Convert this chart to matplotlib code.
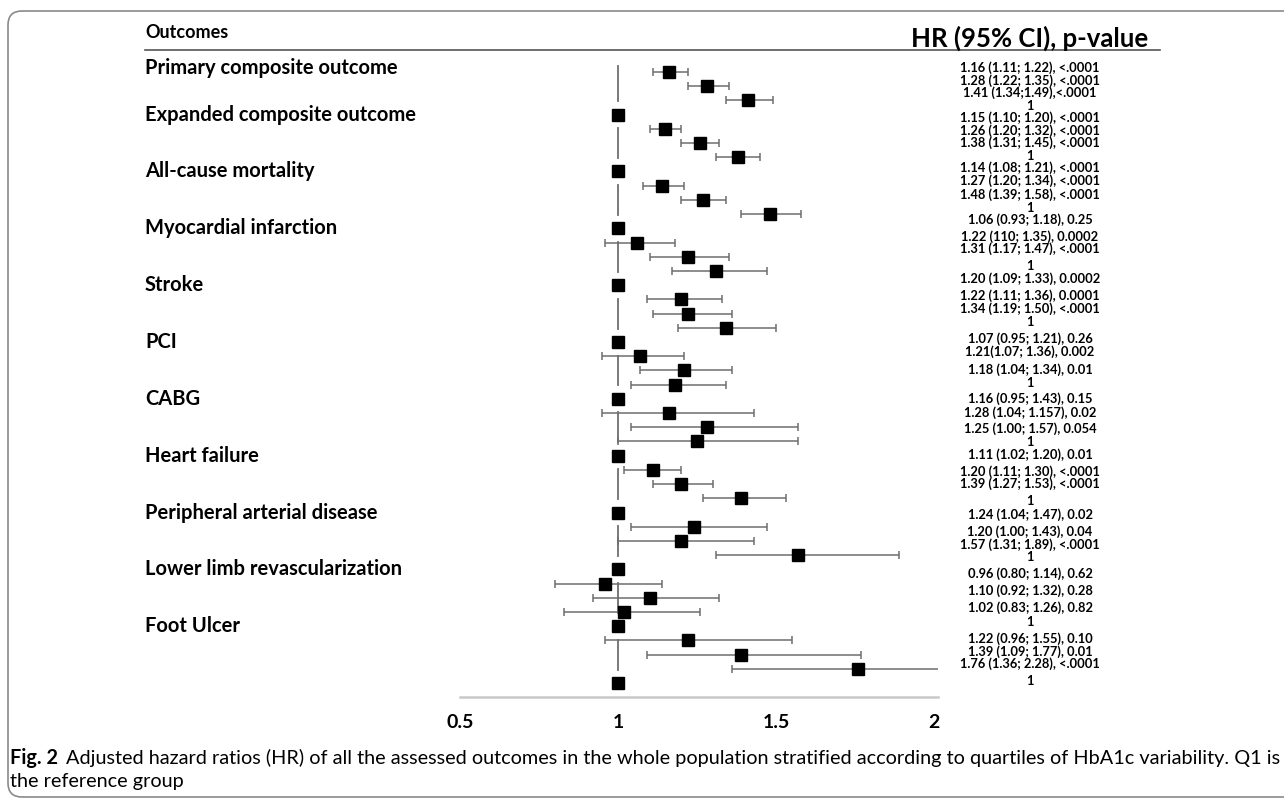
import numpy as np
import matplotlib.pyplot as plt
from matplotlib.patches import FancyBboxPatch
from matplotlib.lines import Line2D
from matplotlib.transforms import blended_transform_factory, IdentityTransform

plt.rcParams['font.family'] = ['Lato', 'DejaVu Sans']

outcomes = ["Primary composite outcome", "Expanded composite outcome", "All-cause mortality",
            "Myocardial infarction", "Stroke", "PCI", "CABG", "Heart failure",
            "Peripheral arterial disease", "Lower limb revascularization", "Foot Ulcer"]

# quartiles Q2-Q4 vs Q1 (reference = 1), as drawn
hr_q2 = [1.16, 1.15, 1.14, 1.06, 1.20, 1.07, 1.16, 1.11, 1.24, 0.96, 1.22]
lo_q2 = [1.11, 1.10, 1.08, 0.96, 1.09, 0.95, 0.95, 1.02, 1.04, 0.80, 0.96]
hi_q2 = [1.22, 1.20, 1.21, 1.18, 1.33, 1.21, 1.43, 1.20, 1.47, 1.14, 1.55]
hr_q3 = [1.28, 1.26, 1.27, 1.22, 1.22, 1.21, 1.28, 1.20, 1.20, 1.10, 1.39]
lo_q3 = [1.22, 1.20, 1.20, 1.10, 1.11, 1.07, 1.04, 1.11, 1.00, 0.92, 1.09]
hi_q3 = [1.35, 1.32, 1.34, 1.35, 1.36, 1.36, 1.57, 1.30, 1.43, 1.32, 1.77]
hr_q4 = [1.41, 1.38, 1.48, 1.31, 1.34, 1.18, 1.25, 1.39, 1.57, 1.02, 1.76]
lo_q4 = [1.34, 1.31, 1.39, 1.17, 1.19, 1.04, 1.00, 1.27, 1.31, 0.83, 1.36]
hi_q4 = [1.49, 1.45, 1.58, 1.47, 1.50, 1.34, 1.57, 1.53, 1.89, 1.26, 2.28]

txt_q2 = ["1.16 (1.11; 1.22), <.0001", "1.15 (1.10; 1.20), <.0001", "1.14 (1.08; 1.21), <.0001",
          "1.06 (0.93; 1.18), 0.25", "1.20 (1.09; 1.33), 0.0002", "1.07 (0.95; 1.21), 0.26",
          "1.16 (0.95; 1.43), 0.15", "1.11 (1.02; 1.20), 0.01", "1.24 (1.04; 1.47), 0.02",
          "0.96 (0.80; 1.14), 0.62", "1.22 (0.96; 1.55), 0.10"]
txt_q3 = ["1.28 (1.22; 1.35), <.0001", "1.26 (1.20; 1.32), <.0001", "1.27 (1.20; 1.34), <.0001",
          "1.22 (110; 1.35), 0.0002", "1.22 (1.11; 1.36), 0.0001", "1.21(1.07; 1.36), 0.002",
          "1.28 (1.04; 1.157), 0.02", "1.20 (1.11; 1.30), <.0001", "1.20 (1.00; 1.43), 0.04",
          "1.10 (0.92; 1.32), 0.28", "1.39 (1.09; 1.77), 0.01"]
txt_q4 = ["1.41 (1.34;1.49),<.0001", "1.38 (1.31; 1.45), <.0001", "1.48 (1.39; 1.58), <.0001",
          "1.31 (1.17; 1.47), <.0001", "1.34 (1.19; 1.50), <.0001", "1.18 (1.04; 1.34), 0.01",
          "1.25 (1.00; 1.57), 0.054", "1.39 (1.27; 1.53), <.0001", "1.57 (1.31; 1.89), <.0001",
          "1.02 (0.83; 1.26), 0.82", "1.76 (1.36; 2.28), <.0001"]

xticks = [0.5, 1, 1.5, 2]
xtick_labels = ["0.5", "1", "1.5", "2"]

# pixel rows of the right text column (hand placed in the original)
txt_px = [68, 81, 93, 106, 118, 131, 143, 156, 168, 181, 195, 208, 220, 237, 249, 266,
          279, 296, 309, 322, 339, 352, 370, 383, 399, 413, 429, 442, 455, 472, 484, 501,
          515, 532, 545, 557, 574, 591, 608, 622, 639, 652, 664, 681]

W, H = 1284, 799
fig = plt.figure(figsize=(W / 100, H / 100), dpi=100)
fig.patch.set_facecolor('white')

def fy(px):
    return 1 - px / H

ax = fig.add_axes([460 / W, fy(697), (938 - 460) / W, (697 - 50) / H])
ax.set_xlim(0.5, 2.012)
ax.set_ylim(43.98, -1.548)

n = len(outcomes)
g = np.arange(n)
grey = '#6e6e6e'

# reference line at HR = 1, one piece per outcome
for i in g:
    top = -0.45 if i == 0 else 4 * i - 0.05
    ax.plot([1, 1], [top, 4 * i + 2.05], color=grey, lw=1.3, zorder=1)

for k, (hr, lo, hi) in enumerate([(hr_q2, lo_q2, hi_q2), (hr_q3, lo_q3, hi_q3), (hr_q4, lo_q4, hi_q4)]):
    hr = np.array(hr); lo = np.array(lo); hi = np.array(hi)
    rows = 4 * g + k
    ax.errorbar(hr, rows, xerr=[hr - lo, hi - hr], fmt='none', ecolor=grey,
                elinewidth=1.1, capsize=3, capthick=1.1, zorder=2)
    ax.plot(hr, rows, 's', color='black', ms=8.6, zorder=3)

ax.plot(np.ones(n), 4 * g + 3, 's', color='black', ms=8.6, zorder=3)

for s in ['top', 'right', 'left']:
    ax.spines[s].set_visible(False)
ax.spines['bottom'].set_color('#c8c8c8')
ax.spines['bottom'].set_linewidth(1.8)
ax.set_yticks([])
ax.set_xticks(xticks)
ax.set_xticklabels(xtick_labels, fontsize=14, fontweight='bold')
ax.tick_params(axis='x', length=0, pad=12)

# outcome labels
tr = blended_transform_factory(fig.transFigure, ax.transData)
label_rows = [-0.3] + [4 * i - 1 for i in range(1, n)]
for name, r in zip(outcomes, label_rows):
    ax.text(145 / W, r, name, transform=tr, ha='left', va='center',
            fontsize=14.5, fontweight='bold', clip_on=False)

# right column of estimates
texts = []
for a, b, c in zip(txt_q2, txt_q3, txt_q4):
    texts += [a, b, c, "1"]
for s, py in zip(texts, txt_px):
    fig.text(1030 / W, fy(py), s, ha='center', va='center', fontsize=9.3, fontweight='bold')

# headers
fig.text(145 / W, fy(33), "Outcomes", ha='left', va='center', fontsize=13, fontweight='bold')
fig.text(1030 / W, fy(38), "HR (95% CI), p-value", ha='center', va='center',
         fontsize=18.5, fontweight='bold')
fig.add_artist(Line2D([145 / W, 1160 / W], [fy(50), fy(50)], color='#555555', lw=1.2))

# frame
frame = FancyBboxPatch((8, H - 797), 1320, 797 - 11, boxstyle="round,pad=0,rounding_size=14",
                       transform=IdentityTransform(), fc='none', ec='#8a8a8a', lw=1.2)
fig.add_artist(frame)

# caption
r = fig.canvas.get_renderer()
t1 = fig.text(10 / W, fy(758), "Fig. 2", ha='left', va='center', fontsize=14.3, fontweight='bold')
w1 = t1.get_window_extent(r).width
fig.text((10 + w1 + 8) / W, fy(758),
         "Adjusted hazard ratios (HR) of all the assessed outcomes in the whole population "
         "stratified according to quartiles of HbA1c variability. Q1 is",
         ha='left', va='center', fontsize=14.3)
fig.text(10 / W, fy(781), "the reference group", ha='left', va='center', fontsize=14.3)

fig.savefig("out.png", dpi=100)
